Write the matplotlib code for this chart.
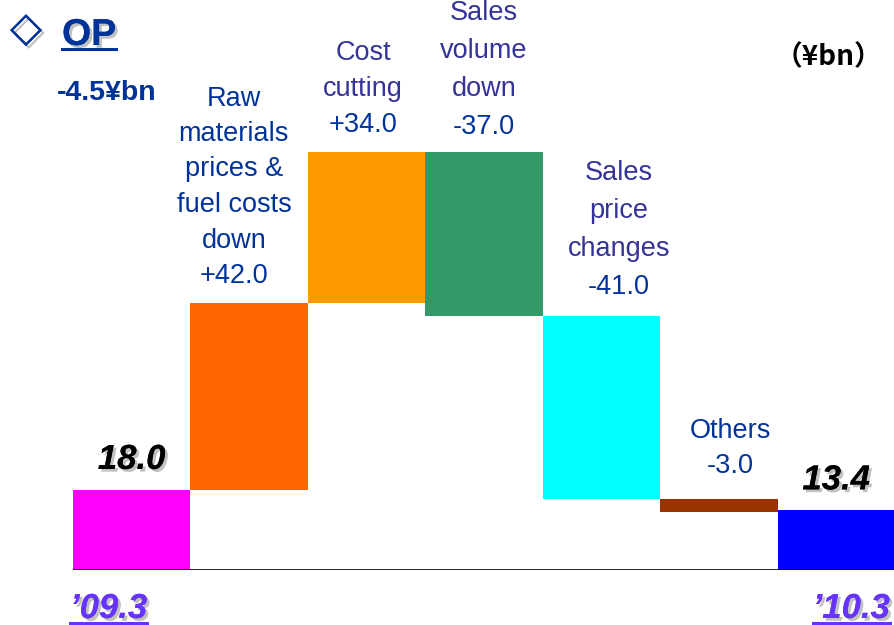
import matplotlib
matplotlib.use('Agg')
import matplotlib.pyplot as plt
import matplotlib.patheffects as pe
from matplotlib.lines import Line2D

# data
start_label = '\u201909.3'
end_label = '\u201910.3'
start_value = 18.0
end_value = 13.4
step_names = ['Raw\nmaterials\nprices &\nfuel costs\ndown', 'Cost\ncutting',
              'Sales\nvolume\ndown', 'Sales\nprice\nchanges', 'Others']
step_values = [42.0, 34.0, -37.0, -41.0, -3.0]
step_colors = ['#FF6600', '#FF9900', '#339966', '#00FFFF', '#993300']
name_colors = ['#003399', '#333399', '#333399', '#333399', '#003399']
# small nudges for the step labels: x in bar widths, gap / line spacing in pixels
label_dx = [-0.13, -0.03, 0.0, 0.15, 0.1]
label_gap = [20, 20, 18, 22, 26]
line_px = [35.5, 36, 38, 38, 35]

plt.rcParams['font.family'] = ['Liberation Sans', 'DejaVu Sans']

W, H = 895, 625
fig = plt.figure(figsize=(W / 100, H / 100), dpi=100)
ax = fig.add_axes([73 / W, 55 / H, 822 / W, 570 / H])
ax.set_xlim(-0.5, 6.5)
ax.set_ylim(0, 570 / 4.45)
ax.axis('off')
ax.axhline(0, color='black', lw=1.2)

shadow = [pe.withSimplePatchShadow(offset=(2, -2), shadow_rgbFace='#999999', alpha=0.6), pe.Normal()]

# start and end bars
ax.bar(0, start_value, width=1.0, color='#FF00FF')
ax.bar(6, end_value, width=1.0, color='#0000FF')

# steps
level = start_value
for i, v in enumerate(step_values):
    x = i + 1
    bottom = level if v > 0 else level + v
    ax.bar(x, abs(v), bottom=bottom, width=1.0, color=step_colors[i])
    top = max(level, level + v)
    lines = step_names[i].split('\n') + ['%+.1f' % v]
    cols = [name_colors[i]] * (len(lines) - 1) + ['#003399']
    for k, (s, c) in enumerate(zip(reversed(lines), reversed(cols))):
        ax.annotate(s, xy=(x + label_dx[i], top), xytext=(0, label_gap[i] + k * line_px[i]),
                    textcoords='offset pixels', ha='center', va='baseline',
                    fontsize=19.5, color=c, annotation_clip=False)
    level += v

# totals
for x, v in [(0, start_value), (6, end_value)]:
    ax.annotate('%.1f' % v, xy=(x, v), xytext=(0, 21), textcoords='offset pixels',
                ha='center', va='baseline', fontsize=25, fontweight='bold',
                fontstyle='italic', color='black', path_effects=shadow)

t1 = fig.text(70 / W, (H - 618) / H, start_label, ha='left', va='baseline', fontsize=25,
              fontweight='bold', fontstyle='italic', color='#6633FF', path_effects=shadow)
t2 = fig.text(890 / W, (H - 618) / H, end_label, ha='right', va='baseline', fontsize=25,
              fontweight='bold', fontstyle='italic', color='#6633FF', path_effects=shadow)

# title
fig.text(10 / W, (H - 29) / H, '\u25C7', ha='left', va='center', fontsize=30,
         fontweight='bold', color='#003399', family=['DejaVu Sans'], path_effects=shadow)
t3 = fig.text(62 / W, (H - 45) / H, 'OP', ha='left', va='baseline', fontsize=27,
              fontweight='bold', color='#003399', path_effects=shadow)
fig.text(57 / W, (H - 100) / H, '-4.5\u00A5bn', ha='left', va='baseline', fontsize=20.5,
         fontweight='bold', color='#003399')
fig.text(882 / W, (H - 57) / H, '\uFF08\u00A5bn\uFF09', ha='right', va='center', fontsize=20,
         fontweight='bold', color='black', family=['Noto Sans CJK JP', 'DejaVu Sans'])

# underlines
fig.canvas.draw()
r = fig.canvas.get_renderer()
for t, col, dy in [(t1, '#6633FF', 5), (t2, '#6633FF', 5), (t3, '#003399', 4)]:
    bb = t.get_window_extent(r)
    y = t.get_position()[1] * H - dy
    fig.add_artist(Line2D([bb.x0 / W, bb.x1 / W], [y / H, y / H], color=col, lw=2.2,
                          transform=fig.transFigure))

fig.savefig('out.png', dpi=100)
